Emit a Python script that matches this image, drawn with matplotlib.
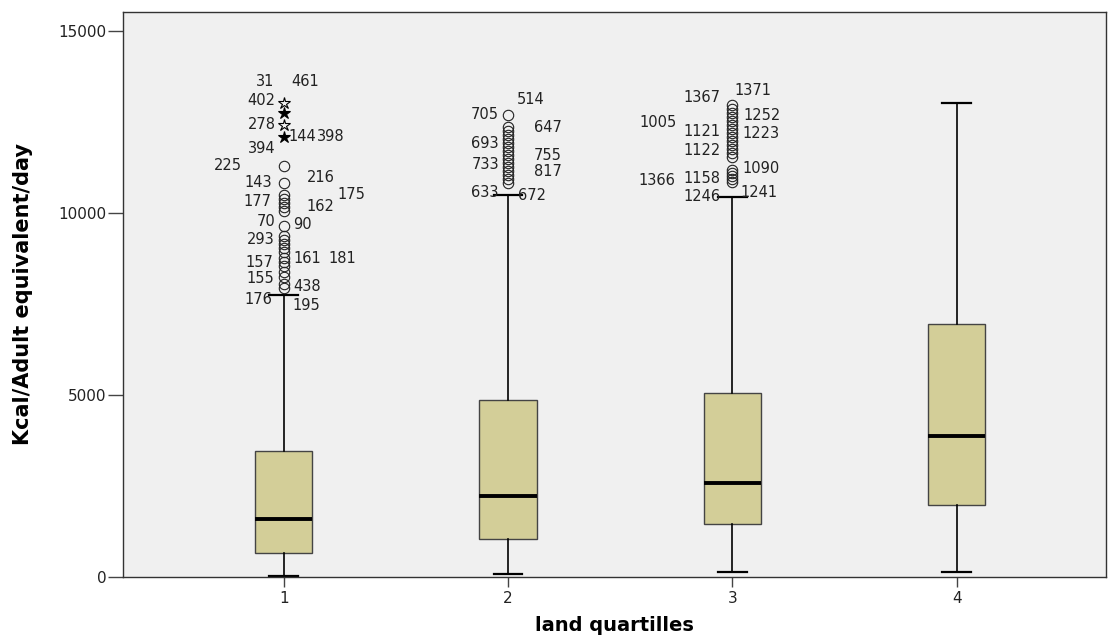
import matplotlib
matplotlib.use("Agg")
import matplotlib.pyplot as plt

# group summaries
groups = ["1", "2", "3", "4"]
medians = [1590, 2225, 2580, 3875]
q1s = [660, 1045, 1455, 1980]
q3s = [3460, 4860, 5055, 6950]
whis_lo = [30, 85, 140, 140]
whis_hi = [7750, 10500, 10440, 13020]

# outliers (circles) per group
circles_1 = [11290, 10823, 10494, 10384, 10274, 10164, 10054, 9642, 9367, 9257,
             9148, 9038, 8928, 8763, 8653, 8543, 8378, 8241, 8049, 7939]
circles_2 = [12691, 12362, 12252, 12142, 12032, 11922, 11812, 11702, 11592, 11482,
             11372, 11263, 11153, 11043, 10933, 10823]
circles_3 = [12966, 12856, 12746, 12636, 12526, 12416, 12307, 12197, 12087, 11977,
             11867, 11757, 11647, 11537, 11180, 11098, 11015, 10933, 10851]
circles_4 = []
# extreme values (stars), group 1 only
stars_1 = [13021, 12746, 12416, 12087]

# case labels: (text, value it sits next to)
labels_1 = [("31", 13021), ("461", 13021), ("402", 13021), ("278", 12416),
            ("144", 12087), ("398", 12087), ("394", 12087), ("225", 11290),
            ("143", 10823), ("216", 10823), ("175", 10494), ("177", 10274),
            ("162", 10164), ("70", 9642), ("90", 9642), ("293", 9257),
            ("157", 8653), ("161", 8653), ("181", 8653), ("155", 8241),
            ("438", 7939), ("176", 7939), ("195", 7939)]
labels_2 = [("514", 12691), ("705", 12691), ("647", 12362), ("693", 11922),
            ("755", 11592), ("733", 11372), ("817", 11153), ("633", 10823),
            ("672", 10823)]
labels_3 = [("1367", 12966), ("1371", 12966), ("1252", 12636), ("1005", 12526),
            ("1121", 12197), ("1223", 12197), ("1122", 11647), ("1090", 11180),
            ("1366", 10933), ("1158", 10933), ("1246", 10851), ("1241", 10851)]

# label offsets in pixels (layout only)
offs_1 = [(-19, 21), (21, 21), (-22, 2), (-22, 0), (19, 0), (47, 0), (-22, -12),
          (-56, 0), (-26, 0), (37, 5), (68, 0), (-26, 1), (37, 0), (-18, 4),
          (19, 1), (-23, 0), (-24, -1), (24, 3), (59, 3), (-23, -2), (23, 1),
          (-25, -12), (23, -18)]
offs_2 = [(23, 15), (-23, 0), (40, -1), (-23, -1), (40, -1), (-23, -2), (40, -1),
          (-23, -10), (24, -13)]
offs_3 = [(-30, 7), (21, 14), (30, 1), (-74, -2), (-30, 1), (29, -1), (-30, 2),
          (29, 1), (-75, -2), (-30, 0), (-30, -15), (27, -11)]
star_filled = [False, True, False, True]

fliers = [circles_1, circles_2, circles_3, circles_4]
positions = [1, 2, 3, 4]

stats = []
for i in range(4):
    stats.append({"med": medians[i], "q1": q1s[i], "q3": q3s[i],
                  "whislo": whis_lo[i], "whishi": whis_hi[i],
                  "fliers": fliers[i]})

fig = plt.figure(figsize=(11.1, 6.37), dpi=100)
ax = fig.add_axes([0.1108, 0.0942, 0.886, 0.887])
ax.set_facecolor("#f0f0f0")

ax.bxp(stats, positions=positions, widths=0.255, patch_artist=True,
       showfliers=True,
       boxprops=dict(facecolor="#d3ce98", edgecolor="#444444", linewidth=1),
       medianprops=dict(color="black", linewidth=2.8),
       whiskerprops=dict(color="black", linewidth=1.2),
       capprops=dict(color="black", linewidth=1.6),
       flierprops=dict(marker="o", markersize=7.5, markerfacecolor="none",
                       markeredgecolor="#222222", markeredgewidth=0.8))

for val, filled in zip(stars_1, star_filled):
    ax.plot([1], [val], linestyle="none", marker="*", markersize=9,
            markerfacecolor="black" if filled else "none",
            markeredgecolor="black", markeredgewidth=0.8)

for pos, labs, offs in [(1, labels_1, offs_1), (2, labels_2, offs_2), (3, labels_3, offs_3)]:
    for (txt, val), (dx, dy) in zip(labs, offs):
        ax.annotate(txt, xy=(pos, val), xytext=(dx, dy), textcoords="offset pixels",
                    ha="center", va="center", fontsize=10.5, color="#222222")

ax.set_xlim(0.283, 4.668)
ax.set_ylim(0, 15520)
ax.set_yticks([0, 5000, 10000, 15000])
ax.set_xticks(positions)
ax.set_xticklabels(groups)
ax.tick_params(axis="y", direction="out", length=11, width=1, color="#444444",
               labelsize=11, pad=1, labelcolor="#222222")
ax.tick_params(axis="x", direction="out", length=7, width=1, color="#444444",
               labelsize=11, pad=3, labelcolor="#222222")

for s in ax.spines.values():
    s.set_color("#333333")
    s.set_linewidth(1)

ax.set_ylabel("Kcal/Adult equivalent/day", fontsize=15, fontweight="bold")
ax.yaxis.label.set_verticalalignment("center")
ax.yaxis.set_label_coords(-0.102, 0.5)
ax.set_xlabel("land quartilles", fontsize=14, fontweight="bold")
ax.xaxis.label.set_verticalalignment("center")
ax.xaxis.set_label_coords(0.5, -0.085)

fig.savefig("out.png", dpi=100)
